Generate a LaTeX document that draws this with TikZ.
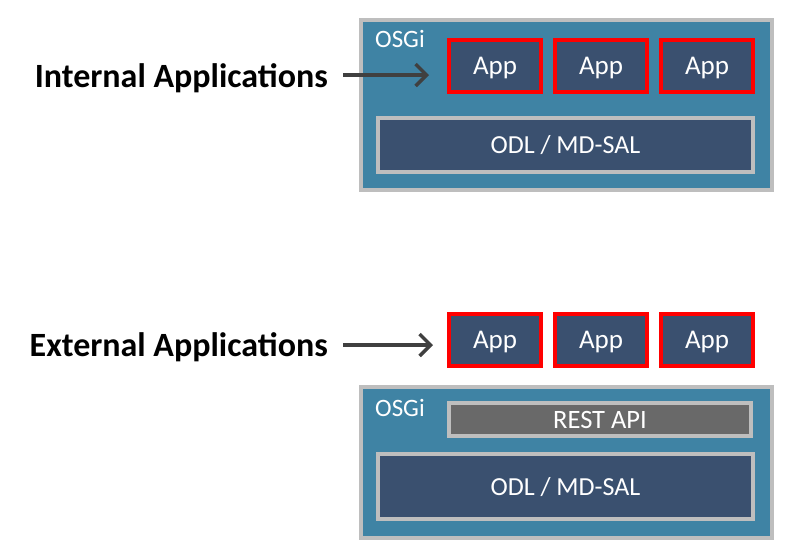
\documentclass[tikz,border=0pt]{standalone}
\usepackage{fontspec}
\setmainfont{Carlito}
\usetikzlibrary{
  arrows.meta,
  positioning,
  shadows,
}
\definecolor{osgiblue}{RGB}{63,131,164}
\definecolor{boxnavy}{RGB}{58,80,111}
\definecolor{rimgray}{RGB}{190,190,190}
\definecolor{restgray}{RGB}{105,105,105}
\definecolor{arrowgray}{RGB}{64,64,64}
\tikzset{
  >={Straight Barb[length=11pt,width=22pt]},
}

\begin{document}
\begin{tikzpicture}[
        x=1pt, y=-1pt,
        every node/.style={inner sep=0pt},
        shade box/.style={drop shadow={shadow xshift=2pt, shadow yshift=-2pt, opacity=0.3}},
        capline/.style={text height=17pt, text depth=0pt},
        osgibox/.style={draw=rimgray, line width=4pt, fill=osgiblue, shade box},
        appbox/.style={draw=red, line width=4pt, fill=boxnavy, text=white,
          minimum width=92pt, minimum height=52pt, shade box, capline,
          font=\fontsize{27}{32}\selectfont},
        corebox/.style={draw=rimgray, line width=4pt, fill=boxnavy, text=white,
          shade box, capline, font=\fontsize{26}{31}\selectfont},
        restbox/.style={draw=rimgray, line width=4pt, fill=restgray, text=white,
          shade box, capline, font=\fontsize{26.5}{31}\selectfont},
        osgitext/.style={text=white, font=\fontsize{25}{30}\selectfont},
        sidetext/.style={font=\fontsize{34}{41}\selectfont\bfseries},
        arr/.style={->, draw=arrowgray, line width=3.5pt},
      ]
      \useasboundingbox (0,0) rectangle (801,558);

      % internal applications
      \node[osgibox, minimum width=411pt, minimum height=170pt] (osgiA) at (566.5,105) {};
      \node[osgitext, anchor=base west] (osgiAtxt) at (375,47) {OSGi};
      \node[appbox] (appA1) at (495,66) {App};
      \node[appbox, right=10pt of appA1] (appA2) {App};
      \node[appbox, right=10pt of appA2] (appA3) {App};
      \node[corebox, minimum width=375pt, minimum height=54pt] (odlA) at (565.5,145) {ODL / MD-SAL};

      \node[sidetext, anchor=base east] (intl) at (328,87) {Internal Applications};
      \coordinate (intTip) at (429,75);
      \draw[arr] ([shift={(15,-12)}]intl.base east) -- (intTip);

      % external applications
      \node[appbox] (appB1) at (495,340) {App};
      \node[appbox, right=10pt of appB1] (appB2) {App};
      \node[appbox, right=10pt of appB2] (appB3) {App};
      \node[osgibox, minimum width=411pt, minimum height=151pt] (osgiB) at (566.5,462.5) {};
      \node[osgitext, anchor=base west] (osgiBtxt) at (375,416) {OSGi};
      \node[restbox, minimum width=302pt, minimum height=33pt] (restB) at (600,419.5) {REST API};
      \node[corebox, minimum width=375pt, minimum height=65pt] (odlB) at (565.5,486.5) {ODL / MD-SAL};

      \node[sidetext, anchor=base east] (extl) at (328,356) {External Applications};
      \coordinate (extTip) at (433,345);
      \draw[arr] ([shift={(15,-11)}]extl.base east) -- (extTip);
    \end{tikzpicture}
\end{document}
